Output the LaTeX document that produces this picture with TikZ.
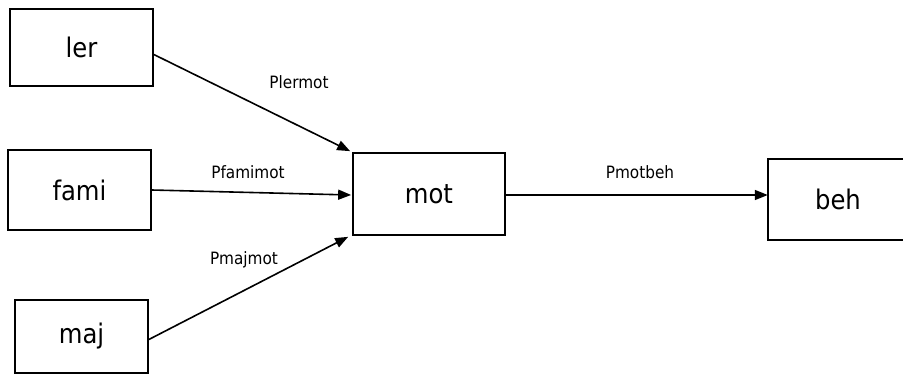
\documentclass[tikz,border=0pt]{standalone}
\usepackage{fontspec}
\setmainfont{DejaVu Sans Condensed}
\usetikzlibrary{arrows.meta}
\begin{document}
\begin{tikzpicture}[x=1pt,y=-1pt,
  boxtext/.style={inner sep=0pt,font=\fontsize{27}{30}\selectfont},
  box/.style={boxtext,draw,line width=1.7pt},
  conn/.style={line width=1.6pt,-{Triangle[length=13pt,width=10pt]}},
  lbl/.style={font=\fontsize{17}{19}\selectfont,inner sep=0pt}]
\useasboundingbox (0,0) rectangle (903,375);
\coordinate (rim) at (903,0);
\node[box,minimum width=143pt,minimum height=77pt] (ler) at (81.5,47.5) {ler};
\node[box,minimum width=143pt,minimum height=80pt] (fami) at (79.5,190) {fami};
\node[box,minimum width=133pt,minimum height=73pt] (maj) at (81.5,336.5) {maj};
\node[box,minimum width=152pt,minimum height=82pt] (mot) at (429,194) {mot};
\node[boxtext,minimum width=140pt,minimum height=81pt] (beh) at (838,199.5) {beh};
\draw[line width=1.7pt] (beh.north west -| rim) -- (beh.north west) -- (beh.south west) -- (beh.south west -| rim);
\draw[conn] ([yshift=-7pt]ler.east) -- ([xshift=-2pt,yshift=1pt]mot.north west);
\draw[conn] (fami.east) -- ([xshift=-1pt,yshift=-1pt]mot.west);
\draw[conn] ([yshift=-3pt]maj.east) -- ([xshift=-4pt,yshift=-1pt]mot.south west);
\draw[conn] ([yshift=-1pt]mot.east) -- ([yshift=-1pt]mot.east -| beh.west);
\node[lbl] (l1) at (299,82) {Plermot};
\node[lbl] (l2) at (248,172) {Pfamimot};
\node[lbl] (l3) at (244,260) {Pmajmot};
\node[lbl] (l4) at (640,172) {Pmotbeh};
\end{tikzpicture}
\end{document}
